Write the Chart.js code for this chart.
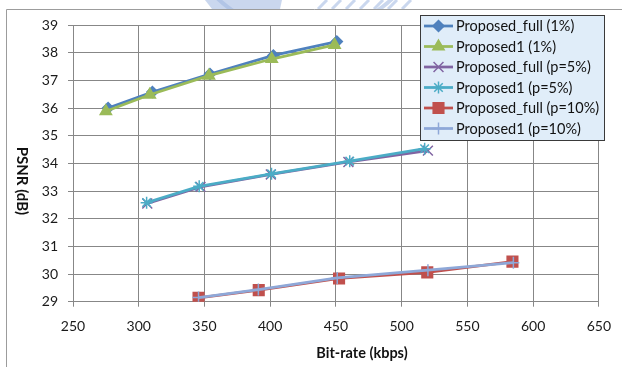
<!DOCTYPE html>
<html>
<head>
<meta charset="utf-8">
<script src="https://cdn.jsdelivr.net/npm/chart.js@4.4.1/dist/chart.umd.min.js"></script>
<style>
  html, body { margin: 0; padding: 0; background: #ffffff; }
  #wrap { width: 622px; height: 367px; }
</style>
</head>
<body>
<div id="wrap"><canvas id="c" width="622" height="367"></canvas></div>
<script>
// Bit-rate (kbps) and PSNR (dB) for each coding configuration
const seriesNames = [
  'Proposed_full (1%)',
  'Proposed1 (1%)',
  'Proposed_full (p=5%)',
  'Proposed1 (p=5%)',
  'Proposed_full (p=10%)',
  'Proposed1 (p=10%)'
];

const bitrateFull1 = [276.7, 310.4, 354.2, 402.4, 450.7];
const psnrFull1    = [36.00, 36.58, 37.23, 37.90, 38.40];

const bitrateProp1_1 = [275.0, 308.4, 353.4, 401.2, 449.0];
const psnrProp1_1    = [35.88, 36.48, 37.17, 37.77, 38.28];

const bitrateFull5 = [306.5, 347.0, 400.5, 459.5, 520.0];
const psnrFull5    = [32.55, 33.15, 33.60, 34.05, 34.46];

const bitrateProp1_5 = [306.0, 346.0, 401.0, 460.5, 517.5];
const psnrProp1_5    = [32.58, 33.17, 33.62, 34.08, 34.53];

const bitrateFull10 = [345.5, 391.3, 452.4, 519.5, 584.3];
const psnrFull10    = [29.14, 29.42, 29.84, 30.06, 30.45];

const bitrateProp1_10 = [345.5, 391.0, 451.0, 520.0, 585.0];
const psnrProp1_10    = [29.15, 29.44, 29.86, 30.14, 30.41];

// Axis ranges and tick steps
const xTicks = [250, 300, 350, 400, 450, 500, 550, 600, 650];
const yTicks = [29, 30, 31, 32, 33, 34, 35, 36, 37, 38, 39];

const xTitle = 'Bit-rate (kbps)';
const yTitle = 'PSNR (dB)';

// Styling per series
const styles = [
  { color: '#4F81BD', point: 'rectRot',  radius: 5.5, bw: 1.5 },
  { color: '#9BBB59', point: 'triangle', radius: 6.5, bw: 1.5 },
  { color: '#8064A2', point: 'crossRot', radius: 7,   bw: 1.5 },
  { color: '#4BACC6', point: 'star',     radius: 6,   bw: 1.5 },
  { color: '#C0504D', point: 'rect',     radius: 7.5, bw: 1.5 },
  { color: '#8EA8D8', point: 'cross',    radius: 6,   bw: 1.5 }
];

const xs = [bitrateFull1, bitrateProp1_1, bitrateFull5, bitrateProp1_5, bitrateFull10, bitrateProp1_10];
const ys = [psnrFull1, psnrProp1_1, psnrFull5, psnrProp1_5, psnrFull10, psnrProp1_10];

const datasets = seriesNames.map((name, i) => ({
  label: name,
  data: xs[i].map((x, k) => ({ x: x, y: ys[i][k] })),
  borderColor: styles[i].color,
  backgroundColor: styles[i].color,
  borderWidth: 2.75,
  pointStyle: styles[i].point,
  pointRadius: styles[i].radius,
  pointHoverRadius: styles[i].radius,
  pointBorderWidth: styles[i].bw,
  pointBackgroundColor: styles[i].color,
  pointBorderColor: styles[i].color,
  tension: 0,
  order: seriesNames.length - i   // later series are painted over earlier ones
}));

const FONT = 'Lato, "Open Sans", "DejaVu Sans", sans-serif';
const GRID = '#878787';

// Faint emblem peeking above the frame (only its lower edge shows)
function drawEmblem(ctx) {
  ctx.save();
  ctx.beginPath();
  ctx.rect(0, 0, 622, 9);
  ctx.clip();
  ctx.globalAlpha = 0.55;
  ctx.strokeStyle = '#9fb6e0';
  ctx.fillStyle = '#9fb6e0';
  // outer ring
  ctx.lineWidth = 4;
  ctx.beginPath();
  ctx.arc(305, -95, 128, 0, Math.PI);
  ctx.stroke();
  // solid lower-left lobe
  ctx.beginPath();
  ctx.moveTo(205, 0);
  ctx.lineTo(282, 0);
  ctx.lineTo(280, 9);
  ctx.lineTo(212, 9);
  ctx.closePath();
  ctx.fill();
  // diagonal hatching on the right
  ctx.lineWidth = 3;
  for (let x0 = 318; x0 <= 410; x0 += 14) {
    ctx.beginPath();
    ctx.moveTo(x0, 9);
    ctx.lineTo(x0 + 9, 0);
    ctx.stroke();
  }
  ctx.restore();
}

// Page furniture: white ground, frame, axis titles and the boxed legend
const decor = {
  id: 'decor',
  beforeDraw(chart) {
    const ctx = chart.ctx;
    ctx.save();
    ctx.fillStyle = '#ffffff';
    ctx.fillRect(0, 0, chart.width, chart.height);
    drawEmblem(ctx);
    // outer chart frame
    ctx.strokeStyle = '#9c9c9c';
    ctx.lineWidth = 1;
    ctx.beginPath();
    ctx.moveTo(6.5, chart.height);
    ctx.lineTo(6.5, 9.5);
    ctx.lineTo(chart.width, 9.5);
    ctx.stroke();
    ctx.restore();
  },
  afterDraw(chart) {
    const ctx = chart.ctx;
    ctx.save();
    ctx.fillStyle = '#111111';
    ctx.font = 'bold 14.5px ' + FONT;
    ctx.textAlign = 'center';
    ctx.textBaseline = 'middle';
    ctx.fillText(xTitle, 362, 353);
    ctx.translate(22, 181);
    ctx.rotate(Math.PI / 2);
    ctx.font = 'bold 15px ' + FONT;
    ctx.fillText(yTitle, 0, 0);
    ctx.restore();

    // legend
    const bx = 420.5, by = 15.5, bw = 184, bh = 125;
    ctx.save();
    ctx.fillStyle = '#E0EDF9';
    ctx.fillRect(bx, by, bw, bh);
    ctx.strokeStyle = '#3a3a3a';
    ctx.lineWidth = 1;
    ctx.strokeRect(bx, by, bw, bh);
    ctx.font = '14.5px ' + FONT;
    ctx.textAlign = 'left';
    ctx.textBaseline = 'middle';
    seriesNames.forEach((name, i) => {
      const yy = 26 + i * 20.5;
      const st = styles[i];
      ctx.strokeStyle = st.color;
      ctx.lineWidth = 2.75;
      ctx.beginPath();
      ctx.moveTo(424, yy);
      ctx.lineTo(453, yy);
      ctx.stroke();
      ctx.fillStyle = st.color;
      ctx.strokeStyle = st.color;
      ctx.lineWidth = st.bw;
      Chart.helpers.drawPoint(ctx, {
        pointStyle: st.point, radius: st.radius, borderWidth: st.bw, rotation: 0
      }, 438.5, yy);
      ctx.fillStyle = '#111111';
      ctx.fillText(name, 456, yy + 0.5);
    });
    ctx.restore();
  }
};

function build() {
  new Chart(document.getElementById('c'), {
    type: 'line',
    data: { datasets: datasets },
    plugins: [decor],
    options: {
      responsive: false,
      animation: false,
      devicePixelRatio: 1,
      layout: { padding: { left: 0, top: 25, right: 10.3, bottom: 0 } },
      plugins: {
        legend: { display: false },
        tooltip: { enabled: false },
        title: { display: false }
      },
      scales: {
        x: {
          type: 'linear',
          min: xTicks[0],
          max: xTicks[xTicks.length - 1],
          afterBuildTicks(scale) { scale.ticks = xTicks.map(v => ({ value: v })); },
          afterFit(scale) { scale.height = 65.3; },
          grid: { color: GRID, lineWidth: 1, tickLength: 5, drawTicks: true },
          border: { color: GRID, width: 1 },
          ticks: { color: '#1a1a1a', font: { family: FONT, size: 14 }, padding: 11, maxRotation: 0 }
        },
        y: {
          type: 'linear',
          min: yTicks[0],
          max: yTicks[yTicks.length - 1],
          afterBuildTicks(scale) { scale.ticks = yTicks.map(v => ({ value: v })); },
          afterFit(scale) { scale.width = 73; },
          grid: { color: GRID, lineWidth: 1, tickLength: 5, drawTicks: true },
          border: { color: GRID, width: 1 },
          ticks: { color: '#1a1a1a', font: { family: FONT, size: 14 }, padding: 10 }
        }
      }
    }
  });
}

if (document.fonts && document.fonts.load) {
  Promise.all([document.fonts.load('14px Lato'), document.fonts.load('bold 14px Lato')])
    .then(build, build);
} else {
  build();
}
</script>
</body>
</html>
